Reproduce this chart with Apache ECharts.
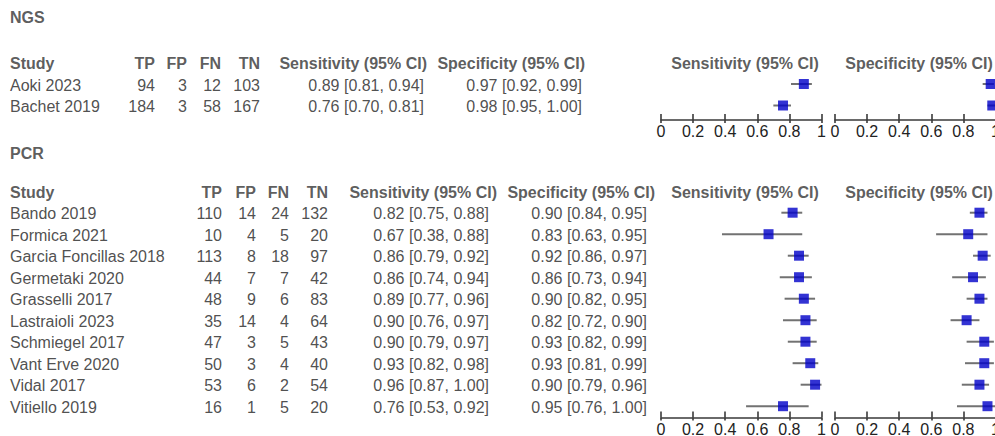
<!DOCTYPE html>
<html>
<head>
<meta charset="utf-8">
<script src="https://cdn.jsdelivr.net/npm/echarts@6/dist/echarts.min.js"></script>
<style>
html,body{margin:0;padding:0;background:#fff;}
#chart{width:995px;height:436px;}
</style>
</head>
<body>
<div id="chart"></div>
<script>
// ---------- DATA ----------
const ngsStudies = ['Aoki 2023', 'Bachet 2019'];
const ngsTP = [94, 184];
const ngsFP = [3, 3];
const ngsFN = [12, 58];
const ngsTN = [103, 167];
const ngsSens = [0.89, 0.76];
const ngsSensLo = [0.81, 0.70];
const ngsSensHi = [0.94, 0.81];
const ngsSpec = [0.97, 0.98];
const ngsSpecLo = [0.92, 0.95];
const ngsSpecHi = [0.99, 1.00];

const pcrStudies = ['Bando 2019', 'Formica 2021', 'Garcia Foncillas 2018', 'Germetaki 2020', 'Grasselli 2017',
  'Lastraioli 2023', 'Schmiegel 2017', 'Vant Erve 2020', 'Vidal 2017', 'Vitiello 2019'];
const pcrTP = [110, 10, 113, 44, 48, 35, 47, 50, 53, 16];
const pcrFP = [14, 4, 8, 7, 9, 14, 3, 3, 6, 1];
const pcrFN = [24, 5, 18, 7, 6, 4, 5, 4, 2, 5];
const pcrTN = [132, 20, 97, 42, 83, 64, 43, 40, 54, 20];
const pcrSens = [0.82, 0.67, 0.86, 0.86, 0.89, 0.90, 0.90, 0.93, 0.96, 0.76];
const pcrSensLo = [0.75, 0.38, 0.79, 0.74, 0.77, 0.76, 0.79, 0.82, 0.87, 0.53];
const pcrSensHi = [0.88, 0.88, 0.92, 0.94, 0.96, 0.97, 0.97, 0.98, 1.00, 0.92];
const pcrSpec = [0.90, 0.83, 0.92, 0.86, 0.90, 0.82, 0.93, 0.93, 0.90, 0.95];
const pcrSpecLo = [0.84, 0.63, 0.86, 0.73, 0.82, 0.72, 0.82, 0.81, 0.79, 0.76];
const pcrSpecHi = [0.95, 0.95, 0.97, 0.94, 0.95, 0.90, 0.99, 0.99, 0.96, 1.00];

const groupTitles = ['NGS', 'PCR'];
const colHeaders = ['Study', 'TP', 'FP', 'FN', 'TN', 'Sensitivity (95% CI)', 'Specificity (95% CI)'];
const plotHeaders = ['Sensitivity (95% CI)', 'Specificity (95% CI)'];
const tickLabels = ['0', '0.2', '0.4', '0.6', '0.8', '1'];

// ---------- LAYOUT ----------
const FONT = "'Liberation Sans', Arial, Helvetica, sans-serif";
const ROW = 21.5;
const panels = [
  { title: groupTitles[0], titleIdx: -3.12, row0: 84, yMin: -3.5, yMax: 1.67,
    cols: { tp: 155, fp: 187, fn: 221, tn: 260, sensH: 427, sensV: 424, specH: 585, specV: 582 },
    studies: ngsStudies, TP: ngsTP, FP: ngsFP, FN: ngsFN, TN: ngsTN,
    sens: ngsSens, sensLo: ngsSensLo, sensHi: ngsSensHi, spec: ngsSpec, specLo: ngsSpecLo, specHi: ngsSpecHi },
  { title: groupTitles[1], titleIdx: -2.78, row0: 212.7, yMin: -3, yMax: 9.53,
    cols: { tp: 222, fp: 256, fn: 289, tn: 328, sensH: 497, sensV: 489, specH: 655, specV: 647 },
    studies: pcrStudies, TP: pcrTP, FP: pcrFP, FN: pcrFN, TN: pcrTN,
    sens: pcrSens, sensLo: pcrSensLo, sensHi: pcrSensHi, spec: pcrSpec, specLo: pcrSpecLo, specHi: pcrSpecHi }
];
const SENS_LEFT = 661, SPEC_LEFT = 835, PLOT_W = 160.5;
const SENS_HEAD_X = 745, SPEC_HEAD_X = 919;

const fmt = v => v.toFixed(2);
const ci = (m, lo, hi) => fmt(m) + ' [' + fmt(lo) + ', ' + fmt(hi) + ']';

const grids = [], xAxes = [], yAxes = [], series = [];

function hiddenY(gi, p) {
  yAxes.push({ gridIndex: gi, type: 'value', inverse: true, min: p.yMin, max: p.yMax, show: false });
}

panels.forEach((p, pi) => {
  const top = p.row0 + p.yMin * ROW;
  const height = (p.yMax - p.yMin) * ROW;
  // table grid (x in pixel units)
  const gT = grids.length;
  grids.push({ left: 0, top: top, width: 995, height: height, outerBoundsMode: 'none', containLabel: false });
  xAxes.push({ gridIndex: gT, type: 'value', min: 0, max: 995, show: false });
  hiddenY(gT, p);
  const items = [];
  const add = (x, y, text, align, bold) => items.push({
    value: [x, y, text],
    label: { align: align, fontWeight: bold ? 'bold' : 'normal', color: bold ? '#333' : '#222' }
  });
  add(10, p.titleIdx, p.title, 'left', true);
  add(10, -1, colHeaders[0], 'left', true);
  add(p.cols.tp, -1, colHeaders[1], 'right', true);
  add(p.cols.fp, -1, colHeaders[2], 'right', true);
  add(p.cols.fn, -1, colHeaders[3], 'right', true);
  add(p.cols.tn, -1, colHeaders[4], 'right', true);
  add(p.cols.sensH, -1, colHeaders[5], 'right', true);
  add(p.cols.specH, -1, colHeaders[6], 'right', true);
  add(SENS_HEAD_X, -1, plotHeaders[0], 'center', true);
  add(SPEC_HEAD_X, -1, plotHeaders[1], 'center', true);
  p.studies.forEach((s, i) => {
    add(10, i, s, 'left', false);
    add(p.cols.tp, i, String(p.TP[i]), 'right', false);
    add(p.cols.fp, i, String(p.FP[i]), 'right', false);
    add(p.cols.fn, i, String(p.FN[i]), 'right', false);
    add(p.cols.tn, i, String(p.TN[i]), 'right', false);
    add(p.cols.sensV, i, ci(p.sens[i], p.sensLo[i], p.sensHi[i]), 'right', false);
    add(p.cols.specV, i, ci(p.spec[i], p.specLo[i], p.specHi[i]), 'right', false);
  });
  series.push({
    type: 'scatter', xAxisIndex: xAxes.length - 1, yAxisIndex: yAxes.length - 1,
    symbolSize: 1, itemStyle: { color: 'rgba(0,0,0,0)' }, silent: true,
    label: { show: true, position: 'inside', verticalAlign: 'middle', fontSize: 16, fontFamily: FONT,
      offset: [0, 1], formatter: q => q.value[2] },
    data: items
  });

  // forest grids
  [[SENS_LEFT, p.sens, p.sensLo, p.sensHi], [SPEC_LEFT, p.spec, p.specLo, p.specHi]].forEach(([left, est, lo, hi]) => {
    const g = grids.length;
    grids.push({ left: left, top: top, width: PLOT_W, height: height, outerBoundsMode: 'none', containLabel: false });
    const xi = xAxes.length;
    xAxes.push({
      gridIndex: g, type: 'value', min: 0, max: 1, interval: 0.2, position: 'bottom',
      axisLine: { show: true, onZero: false, lineStyle: { color: '#3a3a3a', width: 1.6 } },
      axisTick: { show: true, inside: true, length: 6, lineStyle: { color: '#3a3a3a', width: 1.6 } },
      axisLabel: { show: true, margin: 4, fontSize: 16, fontFamily: FONT, color: '#222',
        formatter: (v) => tickLabels[Math.round(v / 0.2)] },
      splitLine: { show: false }
    });
    xAxes.push({
      gridIndex: g, type: 'value', min: 0, max: 1, interval: 0.2, position: 'bottom',
      axisLine: { show: false, onZero: false },
      axisTick: { show: true, inside: false, length: 3, lineStyle: { color: '#3a3a3a', width: 1.6 } },
      axisLabel: { show: false }, splitLine: { show: false }
    });
    hiddenY(g, p);
    const yi = yAxes.length - 1;
    series.push({
      type: 'custom', xAxisIndex: xi, yAxisIndex: yi, silent: true, clip: false,
      encode: { x: [0, 1], y: 2 },
      data: est.map((_, i) => [lo[i], hi[i], i]),
      renderItem: (params, api) => {
        const a = api.coord([api.value(0), api.value(2)]);
        const b = api.coord([api.value(1), api.value(2)]);
        return { type: 'line', shape: { x1: a[0], y1: a[1], x2: b[0], y2: b[1] },
          style: { stroke: '#727272', lineWidth: 2 } };
      },
      z: 2
    });
    series.push({
      type: 'scatter', xAxisIndex: xi, yAxisIndex: yi, silent: true,
      symbol: 'rect', symbolSize: 10, itemStyle: { color: '#0000c8' },
      data: est.map((v, i) => [v, i]),
      z: 3
    });
  });
});

const chart = echarts.init(document.getElementById('chart'), null, { renderer: 'svg' });
chart.setOption({
  animation: false,
  backgroundColor: '#ffffff',
  textStyle: { fontFamily: FONT },
  grid: grids,
  xAxis: xAxes,
  yAxis: yAxes,
  series: series
});
</script>
</body>
</html>
